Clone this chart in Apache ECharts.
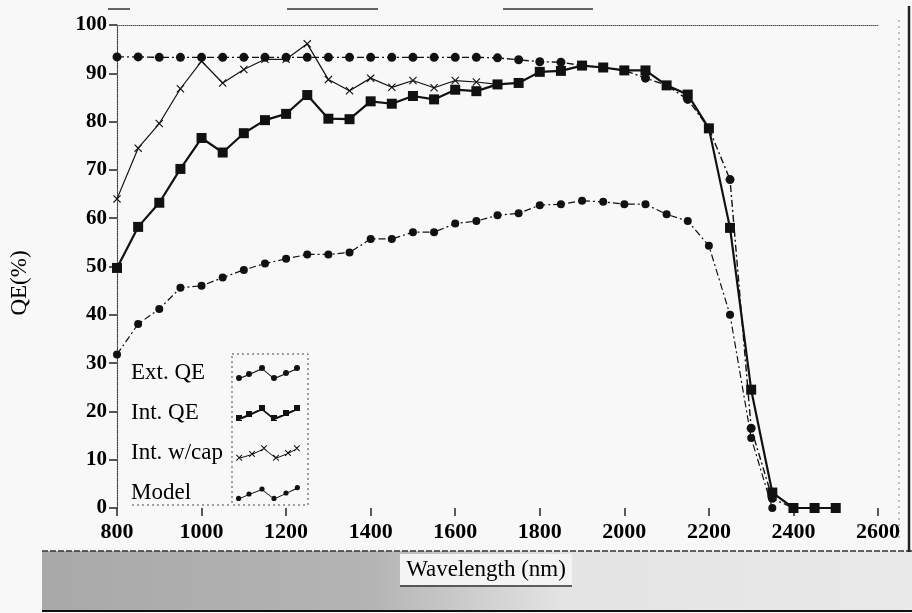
<!DOCTYPE html>
<html><head><meta charset="utf-8">
<script src="https://cdn.jsdelivr.net/npm/echarts@6/dist/echarts.min.js"></script>
<style>html,body{margin:0;padding:0;background:#f8f8f8}#c{width:912px;height:613px}</style>
</head><body><div id="c"></div><script>
// ---- data ----
const wavelengths = [800,850,900,950,1000,1050,1100,1150,1200,1250,1300,1350,1400,1450,1500,1550,1600,1650,1700,1750,1800,1850,1900,1950,2000,2050,2100,2150,2200,2250,2300,2350,2400,2450,2500];
const extQE = [93.4,93.4,93.3,93.3,93.3,93.3,93.3,93.3,93.3,93.3,93.3,93.3,93.3,93.3,93.3,93.3,93.3,93.3,93.2,92.8,92.4,92.3,91.6,91.2,90.6,89.0,87.5,84.6,78.6,68.0,16.5,2.0,0,0,0];
const intQE = [49.7,58.2,63.2,70.2,76.6,73.6,77.6,80.3,81.6,85.5,80.6,80.5,84.2,83.7,85.3,84.6,86.6,86.3,87.7,88.0,90.3,90.5,91.6,91.2,90.6,90.6,87.5,85.6,78.6,58.0,24.5,3.2,0,0,0];
const intCap = [64.0,74.5,79.6,86.8,92.5,88.0,90.8,92.9,92.9,96.1,88.7,86.4,89.0,87.1,88.5,87.0,88.5,88.2,87.7,null,null,null,null,null,null,null,null,null,null,null,null,null,null,null,null];
const model = [31.8,38.1,41.2,45.6,46.0,47.7,49.3,50.6,51.6,52.5,52.5,52.9,55.7,55.7,57.1,57.1,58.9,59.4,60.6,61.0,62.7,62.9,63.6,63.4,62.9,62.9,60.8,59.4,54.3,40.0,14.5,0,null,null,null];
const seriesNames = ['Ext. QE','Int. QE','Int. w/cap','Model'];
const xTicks = [800,1000,1200,1400,1600,1800,2000,2200,2400,2600];
const yTicks = [0,10,20,30,40,50,60,70,80,90,100];
const xTitle = 'Wavelength (nm)';
const yTitle = 'QE(%)';

// ---- helpers ----
const pairs = arr => wavelengths.map((w,i)=>[w,arr[i]]).filter(p=>p[1]!==null);
const INK = '#111';
const FONT = '"Liberation Serif", "DejaVu Serif", serif';

function band(pts, t){
  let s = 'M' + pts.map(p=>p[0]+','+p[1]).join(' L');
  s += ' L' + pts.slice().reverse().map(p=>p[0]+','+(p[1]+t)).join(' L') + ' Z';
  return s;
}
function circ(x,y,r){return ` M${x+r},${y} A${r},${r} 0 1 1 ${x-r},${y} A${r},${r} 0 1 1 ${x+r},${y} Z`;}
function sq(x,y,h){return ` M${x-h},${y-h} L${x+h},${y-h} L${x+h},${y+h} L${x-h},${y+h} Z`;}
function cross(x,y,a,b){return ` M${x-a},${y-b} L${x+b},${y+a} L${x+a},${y+b} L${x-b},${y-a} Z M${x+a},${y-b} L${x+b},${y-a} L${x-a},${y+b} L${x-b},${y+a} Z`;}
const zA = [[3,13],[13,9],[26,3],[38,13],[50,8],[61,3]];
const iconExt = 'path://' + band(zA,1.3) + zA.map(p=>circ(p[0],p[1],3)).join('');
const iconInt = 'path://' + band(zA,2.2) + zA.map(p=>sq(p[0],p[1],3)).join('');
const zC = [[3.2,12.8],[16,9],[28,3.2],[40,12.8],[52,8],[60.8,3.2]];
const iconCap = 'path://' + band(zC,1) + zC.map(p=>cross(p[0],p[1],2.5,3.2)).join('');
const zM = [[2.6,13.4],[13,9],[26,4],[38,13.4],[50,8],[61.4,2.6]];
const iconModel = 'path://' + band(zM,1.1) + zM.map(p=>circ(p[0],p[1],2.6)).join('');
const xSym = 'path://M0,1 L1,0 L5,4 L9,0 L10,1 L6,5 L10,9 L9,10 L5,6 L1,10 L0,9 L4,5 Z';

const chart = echarts.init(document.getElementById('c'));
chart.setOption({
  backgroundColor: '#f8f8f8',
  animation: false,
  grid: {left:117, right:34, top:25, bottom:105, containLabel:false},
  xAxis: [{
    type:'value', min:xTicks[0], max:xTicks[xTicks.length-1], interval:xTicks[1]-xTicks[0],
    axisLine:{show:false},
    axisTick:{show:true, length:8, lineStyle:{color:'#222', width:1.5}},
    axisLabel:{color:'#000', fontFamily:FONT, fontSize:22, fontWeight:'bold', margin:13, formatter:v=>String(v)},
    splitLine:{show:false}
  },{
    type:'value', position:'top', min:xTicks[0], max:xTicks[xTicks.length-1],
    axisLine:{show:true, lineStyle:{color:'#555', type:'dotted', width:1}},
    axisTick:{show:false}, axisLabel:{show:false}, splitLine:{show:false}
  }],
  yAxis: {
    type:'value', min:yTicks[0], max:yTicks[yTicks.length-1], interval:yTicks[1]-yTicks[0],
    axisLine:{show:true, lineStyle:{color:'#444', type:'dotted', width:1.2}},
    axisTick:{show:true, inside:false, length:8, lineStyle:{color:'#222', width:1.5}},
    axisLabel:{color:'#000', fontFamily:FONT, fontSize:21, fontWeight:'bold', margin:10, formatter:v=>String(v)},
    splitLine:{show:false}
  },
  legend: {
    orient:'vertical', left:126, top:356, itemGap:16, align:'right',
    itemWidth:64, itemHeight:16, selectedMode:false,
    itemStyle:{borderWidth:0},
    formatter: name => '{t|' + name + '}',
    textStyle:{color:'#000', fontFamily:FONT, fontSize:23, lineHeight:24,
      rich:{t:{width:100, align:'left', color:'#000', fontFamily:FONT, fontSize:23, lineHeight:24}}},
    data:[
      {name:seriesNames[0], icon:iconExt},
      {name:seriesNames[1], icon:iconInt},
      {name:seriesNames[2], icon:iconCap},
      {name:seriesNames[3], icon:iconModel}
    ]
  },
  series: [
    {name:seriesNames[1], type:'line', data:pairs(intQE), symbol:'rect', symbolSize:10,
     lineStyle:{color:INK, width:2.2}, itemStyle:{color:INK}, z:3},
    {name:seriesNames[2], type:'line', data:pairs(intCap), symbol:xSym, symbolSize:8,
     lineStyle:{color:INK, width:1.2}, itemStyle:{color:INK}, z:2},
    {name:seriesNames[0], type:'line', data:pairs(extQE), symbol:'circle', symbolSize:9,
     lineStyle:{color:INK, width:1.4, type:[7,3,2,3]}, itemStyle:{color:INK}, z:4},
    {name:seriesNames[3], type:'line', data:pairs(model), symbol:'circle', symbolSize:8,
     lineStyle:{color:INK, width:1.2, type:[7,3,2,3]}, itemStyle:{color:INK}, z:4}
  ],
  graphic: [
    {type:'rect', shape:{x:42,y:551,width:870,height:60}, z:0,
     style:{fill:new echarts.graphic.LinearGradient(0,0,1,0,[
       {offset:0,color:'#a9a9a9'},{offset:0.38,color:'#b4b4b4'},{offset:0.6,color:'#e4e4e4'},{offset:1,color:'#e9e9e9'}])}},
    {type:'line', shape:{x1:42,y1:551,x2:912,y2:551}, style:{stroke:'#333', lineWidth:1.5, lineDash:[6,2]}},
    {type:'line', shape:{x1:42,y1:611,x2:912,y2:611}, style:{stroke:'#111', lineWidth:2}},
    {type:'rect', shape:{x:400,y:554,width:172,height:31}, style:{fill:'#f4f4f4'}},
    {type:'line', shape:{x1:400,y1:586,x2:572,y2:586}, style:{stroke:'#333', lineWidth:1.5}},
    {type:'text', x:486, y:570, style:{text:xTitle, font:'23px '+FONT, fill:'#000', align:'center', verticalAlign:'middle'}},
    {type:'text', x:20, y:283, rotation:Math.PI/2, style:{text:yTitle, font:'23px '+FONT, fill:'#000', align:'center', verticalAlign:'middle'}},
    {type:'line', shape:{x1:909,y1:6,x2:909,y2:552}, style:{stroke:'#222', lineWidth:2.5}},
    {type:'line', shape:{x1:899,y1:20,x2:899,y2:540}, style:{stroke:'#888', lineWidth:1, lineDash:[2,4]}},
    {type:'line', shape:{x1:108,y1:9,x2:130,y2:9}, style:{stroke:'#333', lineWidth:1.5}},
    {type:'line', shape:{x1:287,y1:9,x2:378,y2:9}, style:{stroke:'#333', lineWidth:1.5}},
    {type:'line', shape:{x1:503,y1:9,x2:593,y2:9}, style:{stroke:'#333', lineWidth:1.5}},
    {type:'rect', shape:{x:232,y:354,width:76,height:151}, style:{fill:'none', stroke:'#444', lineWidth:1, lineDash:[2,3]}},
    {type:'line', shape:{x1:132,y1:505,x2:232,y2:505}, style:{stroke:'#444', lineWidth:1, lineDash:[2,3]}}
  ]
});
</script></body></html>
